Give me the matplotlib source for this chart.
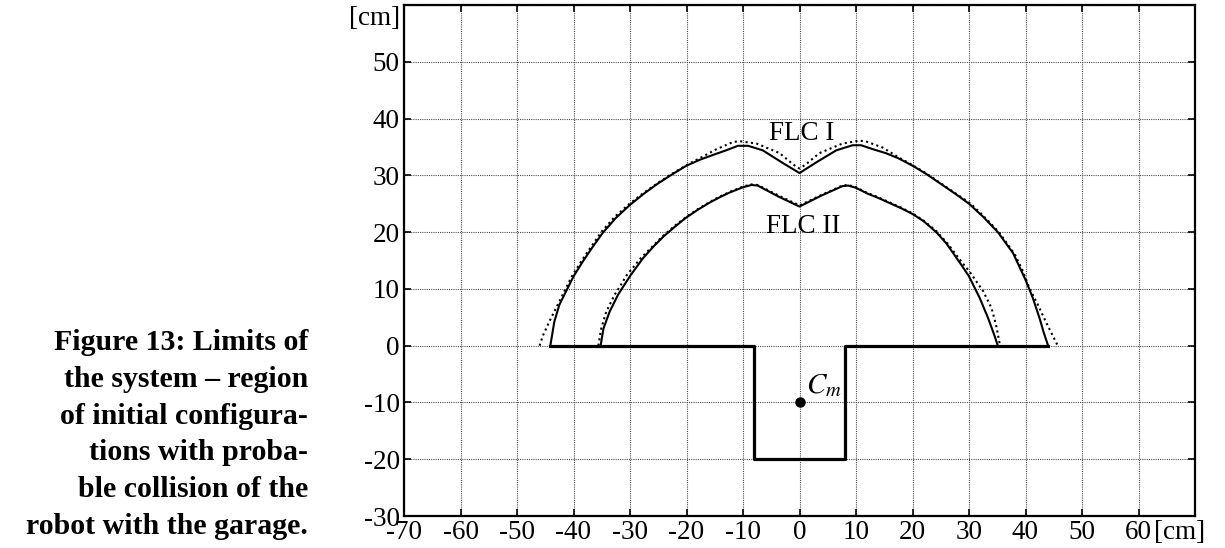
import matplotlib
matplotlib.use("Agg")
import matplotlib.pyplot as plt

plt.rcParams['font.family'] = ['Liberation Serif', 'DejaVu Serif']
plt.rcParams['mathtext.fontset'] = 'stix'

# ---- data (cm) ----
flc1_solid_x = [-44.1, -43.4, -42.5, -41.3, -40.0, -38.3, -36.6, -34.8, -32.5, -30.0, -27.5, -25.0,
                -22.5, -20.0, -17.5, -15.0, -13.0, -10.9, -9.1, -6.5, -3.0, 0.0,
                3.0, 6.5, 9.4, 10.9, 13.0, 15.3, 17.5, 20.0, 22.5, 25.0, 27.5, 30.0, 32.5, 35.1,
                37.8, 40.0, 41.3, 42.5, 43.2, 44.0]
flc1_solid_y = [0.0, 4.2, 7.2, 9.6, 12.2, 14.9, 17.4, 19.9, 22.5, 24.8, 26.8, 28.6,
                30.2, 31.7, 32.8, 33.7, 34.4, 35.2, 35.2, 34.4, 32.2, 30.4,
                32.3, 34.4, 35.3, 35.3, 34.6, 33.9, 33.0, 31.7, 30.2, 28.5, 26.8, 25.0, 22.7, 20.0,
                16.3, 11.6, 8.4, 4.8, 2.4, 0.0]

flc1_dotted_x = [-46.0, -45.4, -44.3, -42.8, -41.6, -40.3, -38.6, -36.9, -35.1, -32.7, -30.2, -27.6,
                 -25.0, -22.5, -20.0, -17.5, -14.7, -11.7, -10.5, -7.6, -3.5, -1.1, 0.0,
                 1.1, 3.5, 7.6, 10.5, 11.7, 14.7, 17.5, 20.0, 22.5, 25.0, 27.5, 30.2, 32.7, 35.3,
                 38.1, 39.5, 40.7, 42.2, 43.6, 44.8, 45.7]
flc1_dotted_y = [0.0, 1.8, 4.2, 7.2, 9.6, 12.2, 14.9, 17.4, 20.0, 22.7, 24.9, 26.9,
                 28.7, 30.3, 31.8, 33.1, 34.6, 35.9, 36.0, 35.6, 33.9, 31.9, 31.2,
                 31.9, 33.9, 35.6, 36.1, 36.0, 34.9, 33.2, 31.8, 30.3, 28.6, 26.9, 25.1, 22.7, 20.0,
                 16.1, 13.2, 10.1, 7.2, 4.2, 1.8, 0.0]

flc2_solid_x = [-35.2, -34.7, -33.6, -32.1, -31.2, -29.9, -27.7, -25.9, -24.1, -22.0, -20.0, -17.9,
                -15.9, -14.0, -12.3, -10.0, -8.5, -7.4, -3.8, 0.0,
                3.8, 7.6, 8.6, 10.0, 12.0, 14.0, 16.0, 18.0, 20.0, 22.0, 24.2, 26.0, 27.2, 28.6,
                30.0, 31.9, 33.4, 34.5, 35.1]
flc2_solid_y = [0.0, 3.0, 6.0, 9.0, 10.4, 12.4, 15.4, 17.4, 19.2, 21.0, 22.6, 24.0,
                25.2, 26.2, 27.0, 27.9, 28.3, 28.2, 26.3, 24.5,
                26.4, 28.1, 28.2, 27.8, 26.8, 26.0, 25.1, 24.2, 23.2, 21.9, 20.0, 18.0, 16.3, 14.3,
                12.2, 8.4, 4.8, 1.8, 0.0]

flc2_dotted_x = [-35.6, -35.1, -34.2, -32.7, -31.8, -30.6, -28.1, -26.1, -24.3, -22.1, -20.0, -17.9,
                 -15.9, -14.0, -12.3, -10.0, -8.6, -7.4, -3.8, 0.0,
                 3.8, 7.6, 8.6, 10.0, 12.0, 14.0, 16.0, 18.0, 20.0, 22.0, 24.3, 26.2, 27.5, 28.9,
                 30.2, 32.5, 34.0, 34.8, 35.5]
flc2_dotted_y = [0.0, 3.0, 6.0, 9.0, 10.4, 12.4, 15.4, 17.4, 19.2, 21.1, 22.7, 24.1,
                 25.3, 26.3, 27.1, 28.0, 28.4, 28.3, 26.5, 24.7,
                 26.5, 28.2, 28.3, 27.9, 26.9, 26.1, 25.2, 24.3, 23.3, 22.0, 20.1, 18.0, 16.3, 14.5,
                 12.9, 9.6, 6.6, 3.6, 0.0]

garage_x = [-44.1, -8, -8, 8, 8, 44.0]
garage_y = [0, 0, -20, -20, 0, 0]

cm_point = (0, -10)

x_ticks = list(range(-70, 71, 10))
x_ticklabels = [str(v) for v in x_ticks[:-1]] + ['']
y_ticks = list(range(-30, 61, 10))
y_ticklabels = [str(v) for v in y_ticks[:-1]] + ['']

caption_lines = ["Figure 13: Limits of", "the system \u2013 region", "of initial configura-",
                 "tions with proba-", "ble collision of the", "robot with the garage."]

# ---- figure ----
W, H = 1225, 548
fig = plt.figure(figsize=(W / 100, H / 100), dpi=100)
ax = fig.add_axes([404 / W, 1 - 516 / H, (1195 - 404) / W, (516 - 5) / H])

ax.set_xlim(-70, 70)
ax.set_ylim(-30, 60)
ax.set_xticks(x_ticks)
ax.set_xticklabels(x_ticklabels)
ax.set_yticks(y_ticks)
ax.set_yticklabels(y_ticklabels)
ax.grid(True, linestyle=(0, (1, 1)), linewidth=0.8, color='0.3')
ax.set_axisbelow(True)
ax.tick_params(direction='in', length=5, width=1.2, top=True, right=True,
               labelsize=19.5, pad=3)
for s in ax.spines.values():
    s.set_linewidth(1.6)

dot = (0, (1, 1.6))
ax.plot(flc1_dotted_x, flc1_dotted_y, color='black', lw=1.5, linestyle=dot)
ax.plot(flc2_dotted_x, flc2_dotted_y, color='black', lw=1.5, linestyle=dot)
ax.plot(flc1_solid_x, flc1_solid_y, color='black', lw=1.5)
ax.plot(flc2_solid_x, flc2_solid_y, color='black', lw=1.5)
ax.plot(garage_x, garage_y, color='black', lw=2.3)
ax.plot([cm_point[0]], [cm_point[1]], 'o', color='black', markersize=6.5)

ax.text(0.4, 36.3, "FLC I", ha='center', va='baseline', fontsize=19.5)
ax.text(0.6, 19.8, "FLC II", ha='center', va='baseline', fontsize=19.5)
ax.text(1.2, -8.4, "$C_m$", ha='left', va='baseline', fontsize=21)

# unit labels
ax.annotate("[cm]", xy=(0, 60), xycoords=('axes fraction', 'data'),
            xytext=(-3, -1), textcoords='offset points', ha='right', va='top', fontsize=19.5)
ax.annotate("[cm]", xy=(70, 0), xycoords=('data', 'axes fraction'),
            xytext=(7, -3), textcoords='offset points', ha='right', va='top', fontsize=19.5)

# caption
base0 = 349.8
for i, line in enumerate(caption_lines):
    yb = base0 + 36.9 * i
    fig.text(308 / W, 1 - yb / H, line, ha='right', va='baseline',
             fontsize=21.5, fontweight='bold')

fig.savefig("out.png", dpi=100)
